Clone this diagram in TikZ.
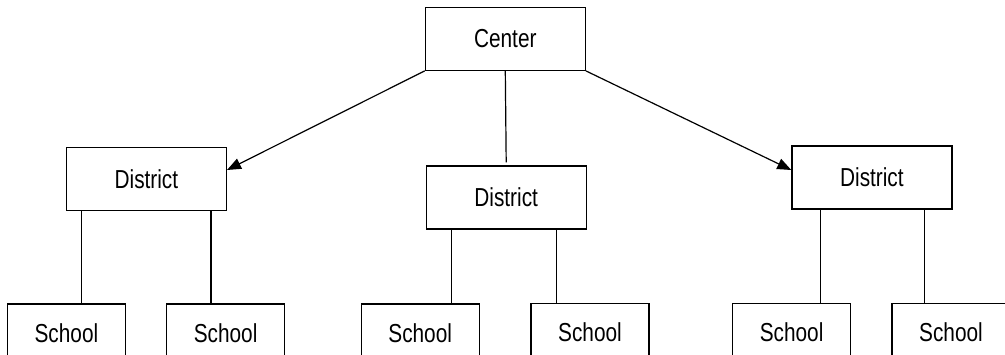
\documentclass[tikz,border=0pt]{standalone}
\usepackage{fontspec}
\setmainfont{Liberation Sans}
\newfontfamily\boxfont[FakeStretch=0.8]{Liberation Sans}
\usetikzlibrary{arrows.meta}
\tikzset{
  unit/.style={draw, line width=1.2pt, inner sep=0pt, font=\boxfont\fontsize{26}{30}\selectfont,
               minimum width=160pt, minimum height=63pt},
  school/.style={unit, minimum width=118pt, minimum height=58pt},
  link/.style={line width=1.2pt},
  feed/.style={line width=1.2pt, -{Triangle[length=14pt, width=11pt]}}
}
\begin{document}
\begin{tikzpicture}[x=1pt, y=1pt]
  \useasboundingbox (0,0) rectangle (1005,354);
  \fill[white] (0,0) rectangle (1005,354);
  \clip (0,0) rectangle (1005,354);

  % top level
  \node[unit] (c) at (505.3,315.2) {Center};

  % districts
  \node[unit] (ld) at (146.4,175) {District};
  \node[unit] (md) at (506.2,156.5) {District};
  \node[unit] (rd) at (871.9,176.5) {District};

  % schools
  \node[school] (s1) at (66.4,21) {School};
  \node[school] (s2) at (225.6,21) {School};
  \node[school] (s3) at (420.2,21) {School};
  \node[school] (s4) at (590,21.5) {School};
  \node[school] (s5) at (791.6,21.5) {School};
  \node[school] (s6) at (951,21.5) {School};

  % center to districts
  \draw[feed] (c.south west) -- ([yshift=9pt]ld.east);
  \draw[feed] (c.south east) -- ([yshift=7.5pt]rd.west);
  \coordinate (cm) at ([yshift=3pt]md.north);
  \draw[link] (c.south) -- (cm);

  % districts to schools
  \coordinate (a1) at ([xshift=16pt]ld.south west);
  \coordinate (a2) at ([xshift=-16pt]ld.south east);
  \coordinate (a3) at ([xshift=26pt]md.south west);
  \coordinate (a4) at ([xshift=-30.5pt]md.south east);
  \coordinate (a5) at ([xshift=29pt]rd.south west);
  \coordinate (a6) at ([xshift=-28pt]rd.south east);
  \draw[link] (a1) -- (a1 |- s1.north);
  \draw[link] (a2) -- (a2 |- s2.north);
  \draw[link] (a3) -- (a3 |- s3.north);
  \draw[link] (a4) -- (a4 |- s4.north);
  \draw[link] (a5) -- (a5 |- s5.north);
  \draw[link] (a6) -- (a6 |- s6.north);
\end{tikzpicture}
\end{document}
